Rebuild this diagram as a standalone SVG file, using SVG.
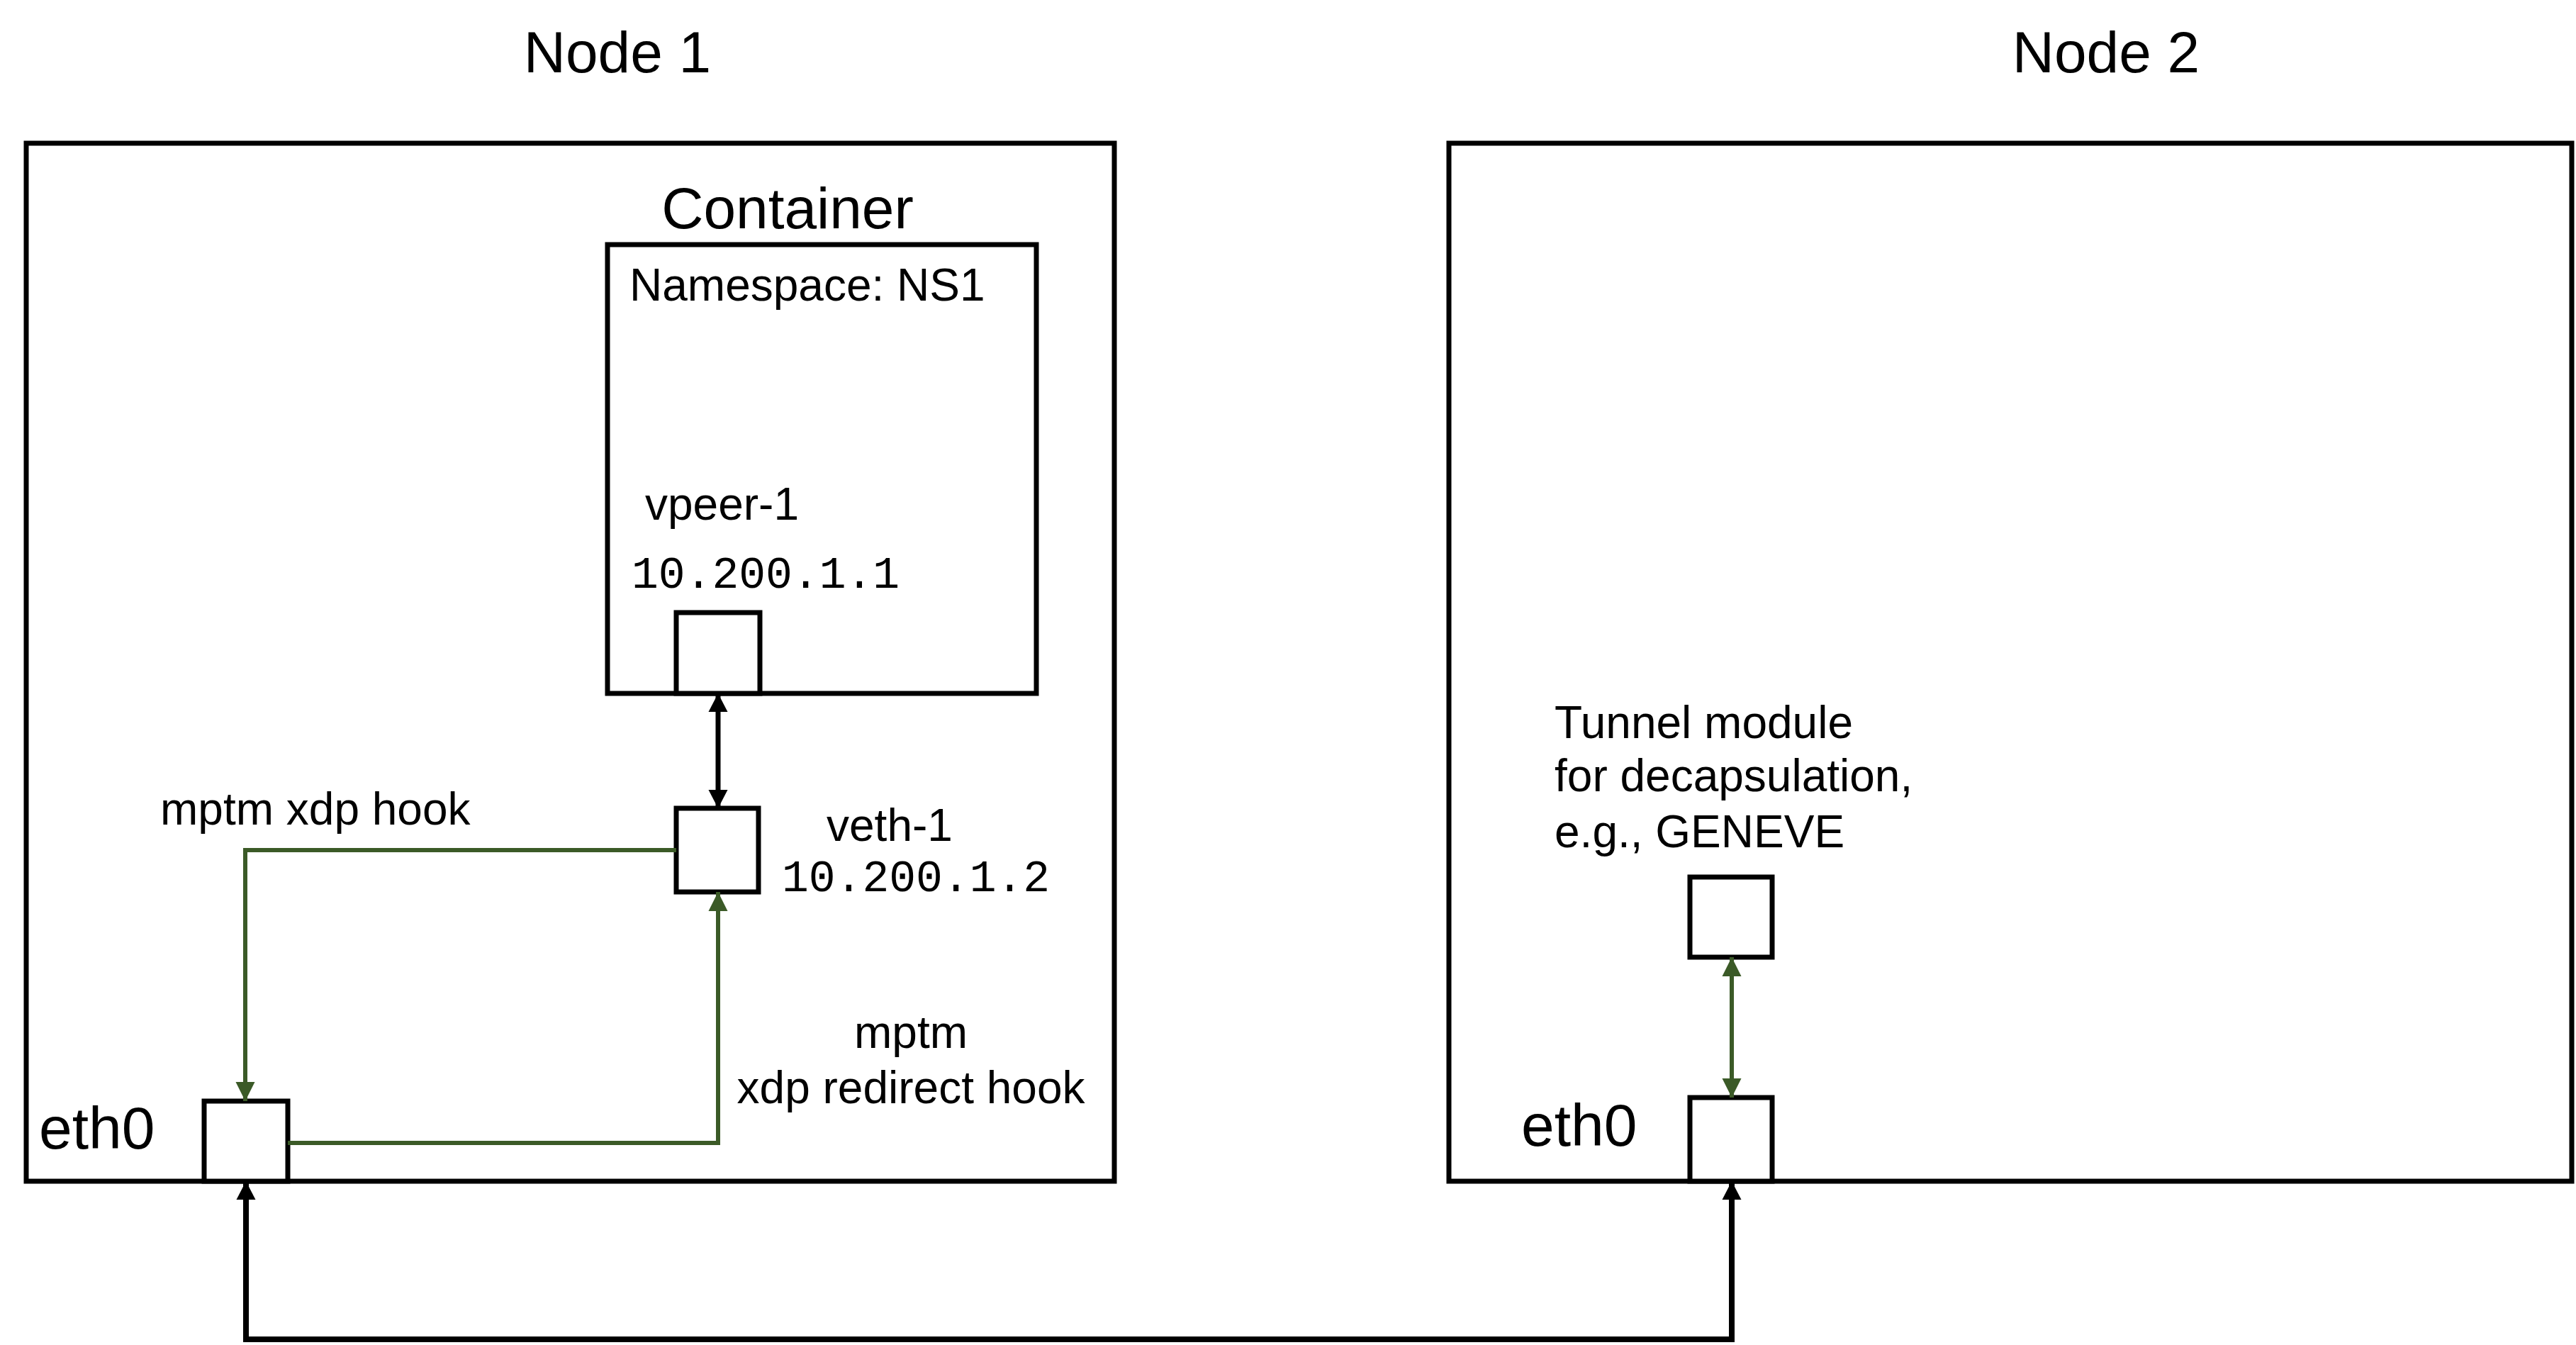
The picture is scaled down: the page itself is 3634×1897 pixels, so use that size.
<svg xmlns="http://www.w3.org/2000/svg" width="3634" height="1897" viewBox="0 0 3634 1897">
<defs>
<style>
.box{fill:none;stroke:#000;stroke-width:7}
.port{fill:#fff;stroke:#000;stroke-width:7}
.title{font-family:"Liberation Sans",Arial,sans-serif;font-size:82px;fill:#000}
.lbl{font-family:"Liberation Sans",Arial,sans-serif;font-size:64px;fill:#000}
.big{font-family:"Liberation Sans",Arial,sans-serif;font-size:84px;fill:#000}
.mono{font-family:"Liberation Mono","Courier New",monospace;font-size:63px;fill:#000}
.blk{fill:none;stroke:#000;stroke-width:7}
.blk8{fill:none;stroke:#000;stroke-width:8}
.grn{fill:none;stroke:#3b5a27;stroke-width:6}
</style>
<marker id="ab" markerUnits="userSpaceOnUse" markerWidth="26" markerHeight="28" viewBox="0 0 26 28" refX="26" refY="14" orient="auto-start-reverse"><path d="M0,0.5 L26,14 L0,27.5 z" fill="#000"/></marker>
<marker id="ag" markerUnits="userSpaceOnUse" markerWidth="27" markerHeight="28" viewBox="0 0 27 28" refX="27" refY="14" orient="auto-start-reverse"><path d="M0,0.5 L27,14 L0,27.5 z" fill="#3b5a27"/></marker>
</defs>
<rect width="3634" height="1897" fill="#fff"/>
<g id="node1">
<text class="title" x="871" y="102" text-anchor="middle">Node 1</text>
<rect class="box" x="37" y="202" width="1535" height="1464"/>
</g>
<g id="node2">
<text class="title" x="2971" y="102" text-anchor="middle">Node 2</text>
<rect class="box" x="2044" y="202" width="1584" height="1464"/>
</g>
<g id="container">
<text class="title" x="1111" y="322" text-anchor="middle">Container</text>
<rect class="box" x="857" y="345" width="605" height="633"/>
<text class="lbl" x="888" y="424">Namespace: NS1</text>
</g>
<g id="vpeer1">
<text class="lbl" x="910" y="733">vpeer-1</text>
<text class="mono" x="891" y="829">10.200.1.1</text>
<rect class="port" x="954" y="864" width="118" height="114"/>
</g>
<g id="veth1">
<rect class="port" x="954" y="1140" width="116" height="118"/>
<text class="lbl" x="1166" y="1186">veth-1</text>
<text class="mono" x="1103" y="1257">10.200.1.2</text>
</g>
<g id="eth0-node1">
<text class="big" x="55" y="1620">eth0</text>
<rect class="port" x="288" y="1553" width="118" height="113"/>
</g>
<g id="tunnel">
<text class="lbl" x="2193" y="1041">Tunnel module</text>
<text class="lbl" x="2193" y="1116">for decapsulation,</text>
<text class="lbl" x="2193" y="1195">e.g., GENEVE</text>
<rect class="port" x="2384" y="1237" width="116" height="113"/>
</g>
<g id="eth0-node2">
<text class="big" x="2146" y="1616">eth0</text>
<rect class="port" x="2384" y="1548" width="116" height="118"/>
</g>
<g id="labels">
<text class="lbl" x="226" y="1163">mptm xdp hook</text>
<text class="lbl" x="1285" y="1478" text-anchor="middle">mptm</text>
<text class="lbl" x="1285" y="1556" text-anchor="middle">xdp redirect hook</text>
</g>
<g id="connectors">
<path class="blk" d="M1013,978 L1013,1140" marker-start="url(#ab)" marker-end="url(#ab)"/>
<path class="grn" d="M954,1199 L346,1199 L346,1553" marker-end="url(#ag)"/>
<path class="grn" d="M406,1612 L1013,1612 L1013,1258" marker-end="url(#ag)"/>
<path class="grn" d="M2443,1350 L2443,1548" marker-start="url(#ag)" marker-end="url(#ag)"/>
<path class="blk8" d="M347,1666 L347,1889 L2443,1889 L2443,1666" marker-start="url(#ab)" marker-end="url(#ab)"/>
</g>
</svg>
